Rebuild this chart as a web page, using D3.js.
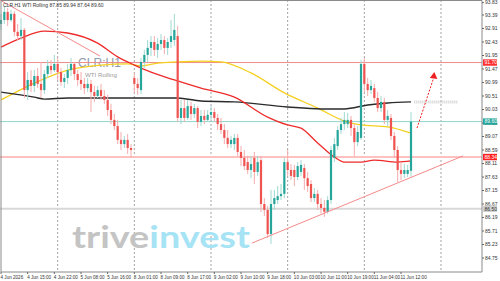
<!DOCTYPE html>
<html>
<head>
<meta charset="utf-8">
<script src="https://cdn.jsdelivr.net/npm/d3@7"></script>
<style>
html, body { margin: 0; padding: 0; background: #fff; }
svg { display: block; font-family: "Liberation Sans", Arial, sans-serif; }
</style>
</head>
<body>
<svg id="chart" width="500" height="281"></svg>
<script>
// CLR H1 (WTI rolling) candles
var opens = [93.07,93.21,93.50,93.21,93.43,92.79,92.64,92.86,90.72,91.08,
 90.87,91.22,90.94,90.72,91.29,91.58,91.43,91.65,91.36,91.01,
 91.15,91.43,91.65,91.29,91.08,90.94,90.79,90.94,90.65,90.51,
 90.72,90.51,90.37,90.01,89.66,89.44,88.95,88.80,88.95,88.66,
 91.15,90.94,90.72,91.72,91.97,92.22,92.43,92.15,92.36,92.50,
 92.22,92.43,92.50,92.64,89.73,90.08,89.73,90.15,89.87,90.08,
 89.59,89.80,89.66,89.84,89.94,89.73,89.51,89.30,89.02,88.80,
 88.80,89.02,88.52,88.31,88.16,87.88,88.31,87.81,88.23,86.67,
 86.46,85.60,86.67,86.81,86.95,87.03,88.16,87.88,87.88,87.63,
 87.81,87.95,87.59,87.38,86.88,87.03,86.67,86.53,86.39,86.81,
 88.31,88.73,89.30,89.51,89.51,89.66,89.37,88.87,89.02,91.65,
 90.94,90.72,90.79,90.44,90.08,90.30,89.66,89.73,89.09,88.59,
 87.88,87.74,87.74,87.85];
var highs = [93.43,93.71,93.64,93.57,93.53,93.07,93.28,92.93,91.36,91.43,
 91.43,91.51,91.72,91.43,91.79,91.79,91.97,91.86,91.51,91.29,
 91.65,91.86,91.72,91.43,91.36,91.15,91.15,91.08,90.87,90.87,
 90.94,90.72,90.55,90.23,89.87,89.66,89.23,89.09,89.16,88.80,
 91.33,91.15,91.86,92.15,92.50,92.64,92.64,92.57,92.71,92.64,
 92.57,93.21,93.43,93.00,90.37,90.37,90.37,90.30,90.23,90.15,
 90.01,90.01,90.01,90.15,90.08,89.87,89.73,89.51,89.30,89.09,
 89.16,89.16,88.73,88.59,88.38,88.38,88.52,88.38,88.38,86.88,
 86.60,87.17,87.17,87.31,87.38,88.31,88.59,88.09,88.06,88.16,
 88.23,88.09,87.81,87.52,87.24,87.17,86.88,86.81,86.95,88.73,
 89.02,89.44,89.73,89.94,89.91,89.80,89.51,89.44,91.79,91.86,
 91.15,91.08,90.94,90.65,90.51,90.44,90.01,89.87,89.23,88.73,
 88.16,88.09,88.06,89.94];
var lows = [92.86,93.07,93.00,93.14,92.64,92.50,92.50,90.44,90.37,90.65,
 90.65,90.79,90.44,90.58,91.15,91.29,91.36,91.08,90.87,90.79,
 90.94,91.22,91.08,90.87,90.72,90.58,90.65,89.94,90.30,90.44,
 90.37,90.23,89.80,89.51,89.30,88.80,88.59,88.66,88.45,88.31,
 90.62,90.55,90.58,91.51,91.72,91.93,91.93,91.86,92.15,92.00,
 91.97,92.22,92.29,89.59,89.51,89.59,89.66,89.66,89.73,89.37,
 89.44,89.51,89.59,89.66,89.59,89.30,89.16,88.80,88.66,88.66,
 88.59,88.38,88.02,87.88,87.74,87.59,87.38,87.67,86.39,86.24,
 85.46,85.25,86.46,86.67,86.81,86.88,87.67,87.52,87.31,87.52,
 87.67,87.17,87.10,86.74,86.74,86.46,86.33,86.21,86.33,86.67,
 88.16,88.59,89.16,89.30,89.37,89.09,88.38,88.73,88.95,90.65,
 90.51,90.58,90.30,89.94,89.94,89.51,89.44,88.95,88.31,87.45,
 87.52,87.59,87.63,87.64];
var closes = [93.21,93.50,93.21,93.43,92.79,92.64,92.86,90.72,91.08,90.87,
 91.22,90.94,90.72,91.29,91.58,91.43,91.65,91.36,91.01,91.15,
 91.43,91.65,91.29,91.08,90.94,90.79,90.94,90.65,90.51,90.72,
 90.51,90.37,90.01,89.66,89.44,88.95,88.80,88.95,88.66,88.59,
 90.94,90.79,91.72,91.97,92.22,92.43,92.15,92.36,92.50,92.22,
 92.43,92.64,92.86,89.73,90.08,89.73,90.15,89.87,90.08,89.59,
 89.80,89.66,89.84,89.94,89.73,89.51,89.30,89.02,88.80,88.95,
 89.02,88.52,88.31,88.02,87.88,88.09,87.81,88.16,86.67,86.46,
 85.60,86.67,86.88,86.95,87.03,88.16,87.88,87.67,87.63,88.02,
 88.06,87.59,87.31,86.88,87.03,86.67,86.53,86.39,86.81,88.59,
 88.80,89.30,89.51,89.66,89.66,89.37,88.87,89.23,91.65,90.94,
 90.72,90.87,90.44,90.08,90.30,89.66,89.80,89.09,88.59,87.88,
 87.74,87.88,87.88,89.60];

// x axis: one label every 8 bars
var timeLabels = ["4 Jun 2026","4 Jun 15:00","4 Jun 22:00","5 Jun 08:00","5 Jun 16:00",
 "8 Jun 01:00","8 Jun 09:00","8 Jun 17:00","9 Jun 02:00","9 Jun 10:00","9 Jun 18:00",
 "10 Jun 03:00","10 Jun 11:00","10 Jun 19:00","11 Jun 04:00","11 Jun 12:00"];
var dayStarts = [17, 40, 63, 86, 109, 132];
var priceTicks = [84.75,85.23,85.71,86.19,86.67,87.15,87.63,88.11,88.59,89.07,
 89.55,90.03,90.51,90.99,91.47,91.95,92.43,92.91,93.39,93.83];

// moving averages, sampled at bar indices
var maRedIdx = [0,6,13,20,29,35,40,45,52,60,70,80,86,90,95,100,103,108,112,119,123];
var maRedVal = [92.25,92.57,92.82,92.75,92.39,91.90,91.61,91.36,91.08,90.79,90.47,
 89.76,89.48,89.37,88.84,88.34,88.16,88.16,88.23,88.16,88.20];
var maYellowIdx = [0,10,20,30,38,42,47,53,60,66,75,85,95,103,108,116,123];
var maYellowVal = [90.37,90.97,91.43,91.61,91.65,91.58,91.68,91.72,91.75,91.72,
 91.33,90.62,90.08,89.62,89.48,89.41,89.19];
var maBlackIdx = [0,10,13,20,30,40,53,60,70,86,96,103,110,116,123];
var maBlackVal = [90.65,90.47,90.40,90.44,90.44,90.44,90.44,90.33,90.30,90.12,
 90.05,90.05,90.19,90.26,90.30];

// horizontal levels
var levelPrices = [91.70, 89.60, 88.34, 86.50];
var levelColors = ["#f08a8a", "#8fd6cc", "#ffc0c0", "#d8d8d8"];
var levelWidths = [1, 1, 2, 2];
var levelBoxFill = ["#ff3030", "#26a69a", "#ff2020", "#d0d0d0"];
var levelBoxText = ["#fff", "#fff", "#fff", "#333"];

var width = 500, height = 281;
var plotRight = 482, plotBottom = 272;

var svg = d3.select("#chart");

var x = d3.scaleLinear().domain([0, 123]).range([1, 411]);
var y = d3.scaleLinear().domain([84.75, 93.39]).range([258, 15]);

svg.append("defs").append("clipPath").attr("id", "plot")
  .append("rect").attr("x", 0).attr("y", 0).attr("width", plotRight).attr("height", plotBottom);

var g = svg.append("g").attr("clip-path", "url(#plot)");

// day separators
g.selectAll("line.grid").data(dayStarts).enter().append("line")
  .attr("class", "grid")
  .attr("x1", function(d){ return x(d); }).attr("x2", function(d){ return x(d); })
  .attr("y1", 0).attr("y2", plotBottom)
  .attr("stroke", "#8c8c8c").attr("stroke-width", 0.8).attr("stroke-dasharray", "2,2");

// watermarks
var wm = g.append("text").attr("x", 72).attr("y", 248)
  .attr("font-family", "Lato, 'Open Sans', sans-serif").attr("font-weight", 700)
  .attr("font-size", 31).attr("textLength", 178).attr("lengthAdjust", "spacingAndGlyphs");
wm.append("tspan").attr("fill", "#c4c4c4").text("trive");
wm.append("tspan").attr("fill", "#a6e3f5").text("invest");

g.append("text").attr("x", 78).attr("y", 67)
  .attr("font-size", 13.5).attr("fill", "#8e9aae")
  .attr("textLength", 43).attr("lengthAdjust", "spacingAndGlyphs")
  .text("CLR:H1");
g.append("text").attr("x", 85).attr("y", 77)
  .attr("font-size", 6).attr("fill", "#9a9a9a")
  .attr("textLength", 32).attr("lengthAdjust", "spacingAndGlyphs")
  .text("WTI Rolling");

// horizontal levels
levelPrices.forEach(function(p, k){
  g.append("line")
    .attr("x1", 0).attr("x2", plotRight)
    .attr("y1", y(p)).attr("y2", y(p))
    .attr("stroke", levelColors[k]).attr("stroke-width", levelWidths[k]);
});

// moving averages
function maLine(idx, vals, color, w){
  var pts = idx.map(function(d, k){ return [d, vals[k]]; });
  g.append("path").datum(pts)
    .attr("fill", "none").attr("stroke", color).attr("stroke-width", w)
    .attr("d", d3.line()
      .x(function(d){ return x(d[0]); })
      .y(function(d){ return y(d[1]); })
      .curve(d3.curveMonotoneX));
}
maLine(maYellowIdx, maYellowVal, "#f5d020", 1.3);
maLine(maBlackIdx, maBlackVal, "#2b2b2b", 1.4);
maLine(maRedIdx, maRedVal, "#ee2b2b", 1.3);

// faded extension of the 200 line
g.append("line")
  .attr("x1", x(124)).attr("x2", x(137))
  .attr("y1", y(90.30)).attr("y2", y(90.30))
  .attr("stroke", "#cfcfcf").attr("stroke-width", 3).attr("stroke-dasharray", "1,1");

// candles
var bars = d3.range(opens.length);
var up = "#26a69a", down = "#ef5350";
var cg = g.append("g");
cg.selectAll("line.wick").data(bars).enter().append("line")
  .attr("class", "wick")
  .attr("x1", function(i){ return x(i); }).attr("x2", function(i){ return x(i); })
  .attr("y1", function(i){ return y(highs[i]); }).attr("y2", function(i){ return y(lows[i]); })
  .attr("stroke", function(i){ return closes[i] >= opens[i] ? "#9fd8d1" : "#f5abab"; })
  .attr("stroke-width", 1);
cg.selectAll("rect.body").data(bars).enter().append("rect")
  .attr("class", "body")
  .attr("x", function(i){ return x(i) - 1.1; })
  .attr("width", 2.2)
  .attr("y", function(i){ return y(Math.max(opens[i], closes[i])); })
  .attr("height", function(i){ return Math.max(0.8, Math.abs(y(opens[i]) - y(closes[i]))); })
  .attr("fill", function(i){ return closes[i] >= opens[i] ? up : down; });

// trend lines
var trendDown = [[-0.3, 93.92], [29.7, 91.93]];
var trendUp = [[75.3, 85.28], [138.6, 88.38]];
[trendDown, trendUp].forEach(function(t){
  g.append("line")
    .attr("x1", x(t[0][0])).attr("y1", y(t[0][1]))
    .attr("x2", x(t[1][0])).attr("y2", y(t[1][1]))
    .attr("stroke", "#f58a8a").attr("stroke-width", 1);
});

// projected move arrow
var arrowFrom = [124.8, 89.37], arrowTo = [129.7, 91.12], arrowTip = [130.0, 91.36];
g.append("line")
  .attr("x1", x(arrowFrom[0])).attr("y1", y(arrowFrom[1]))
  .attr("x2", x(arrowTo[0])).attr("y2", y(arrowTo[1]))
  .attr("stroke", "#ee2020").attr("stroke-width", 1).attr("stroke-dasharray", "2,1.5");
var tx = x(arrowTip[0]), ty = y(arrowTip[1]);
g.append("path")
  .attr("d", "M" + tx + "," + ty + "L" + (tx - 4.5) + "," + (ty + 6) + "L" + (tx + 3) + "," + (ty + 7) + "Z")
  .attr("fill", "#ee2020");

// header
svg.append("text").attr("x", 3).attr("y", 6.5)
  .attr("font-size", 5).attr("fill", "#333")
  .text("CLR,H1  WTI Rolling  87.85 89.94 87.64 89.60");

// frame
svg.append("path")
  .attr("d", "M1,0.5H" + plotRight + "V" + plotBottom + "H1Z")
  .attr("fill", "none").attr("stroke", "#8a8a8a").attr("stroke-width", 1);

// price axis
var ya = svg.append("g");
ya.selectAll("line").data(priceTicks).enter().append("line")
  .attr("x1", plotRight).attr("x2", plotRight + 2)
  .attr("y1", function(d){ return y(d); }).attr("y2", function(d){ return y(d); })
  .attr("stroke", "#666");
ya.selectAll("text").data(priceTicks).enter().append("text")
  .attr("x", plotRight + 3).attr("y", function(d){ return y(d) + 1.8; })
  .attr("font-size", 5).attr("fill", "#333")
  .text(function(d){ return d.toFixed(2); });

levelPrices.forEach(function(p, k){
  svg.append("rect").attr("x", plotRight + 1).attr("y", y(p) - 3.2)
    .attr("width", 14).attr("height", 6.4).attr("fill", levelBoxFill[k]);
  svg.append("text").attr("x", plotRight + 2.5).attr("y", y(p) + 1.8)
    .attr("font-size", 5).attr("fill", levelBoxText[k])
    .text(p.toFixed(2));
});

// time axis
var xa = svg.append("g");
xa.selectAll("line").data(timeLabels).enter().append("line")
  .attr("x1", function(d, k){ return x(k * 8); }).attr("x2", function(d, k){ return x(k * 8); })
  .attr("y1", plotBottom).attr("y2", plotBottom + 2)
  .attr("stroke", "#666");
xa.selectAll("text").data(timeLabels).enter().append("text")
  .attr("x", function(d, k){ return x(k * 8) - 0.5; })
  .attr("y", plotBottom + 6.5)
  .attr("font-size", 4.6).attr("fill", "#333")
  .text(function(d){ return d; });
</script>
</body>
</html>
